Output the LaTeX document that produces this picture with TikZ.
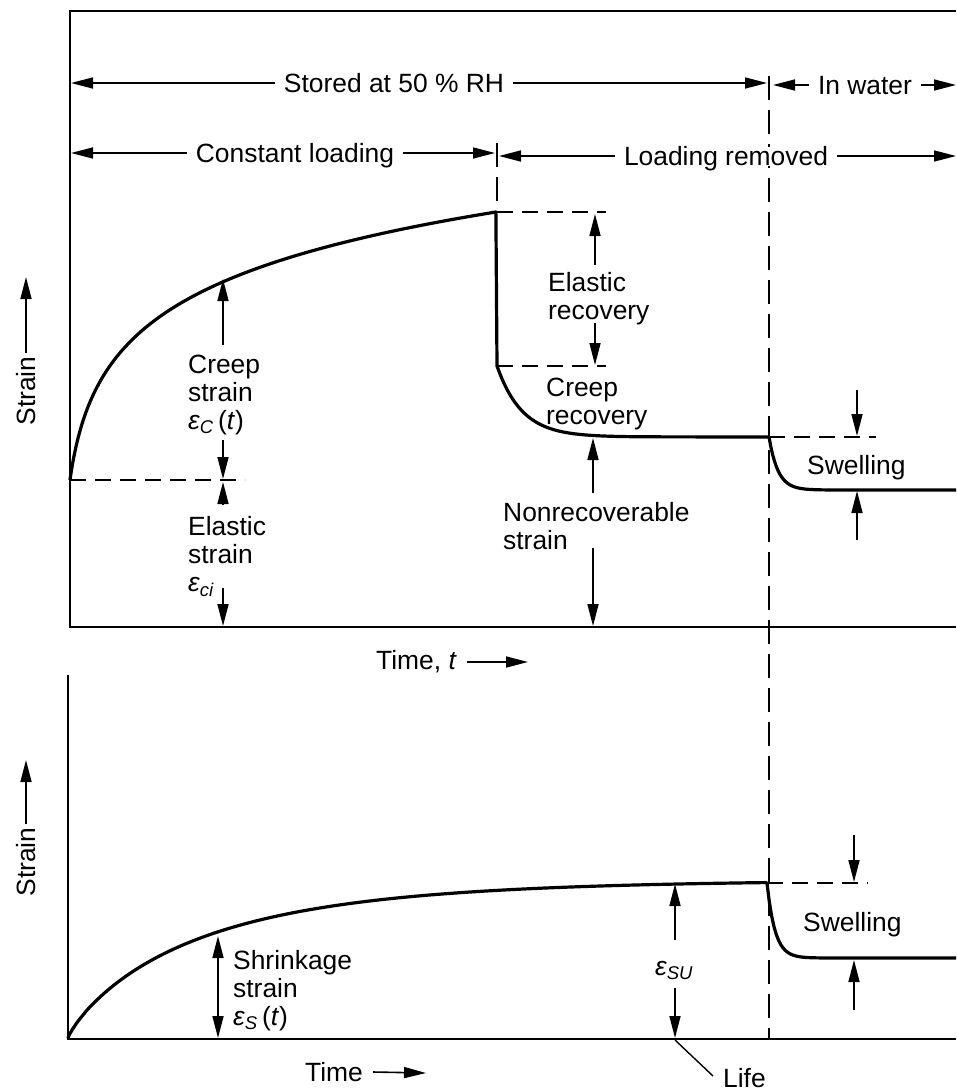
\documentclass[tikz,border=0pt]{standalone}
\usepackage{fontspec}
\setmainfont{Liberation Sans}
\usetikzlibrary{arrows.meta}
\begin{document}
\begin{tikzpicture}[x=1pt,y=-1pt,
  every node/.style={font=\fontsize{26.4}{28}\selectfont, inner sep=0pt},
  axis/.style={line width=2.5pt, line join=miter},
  curve/.style={line width=3.2pt, line join=round},
  guide/.style={line width=1.8pt, dash pattern=on 16pt off 9pt},
  vguide/.style={line width=2pt, dash pattern=on 24pt off 10pt},
  dimline/.style={line width=1.6pt, -{Triangle[length=22pt,width=11pt]}},
  dimboth/.style={line width=1.6pt, {Triangle[length=22pt,width=11pt]}-{Triangle[length=22pt,width=11pt]}},
  thinline/.style={line width=1.4pt},
  span/.style={inner xsep=9pt, inner ysep=0pt, text height=19pt, text depth=0pt, fill=white},
  lbl/.style={align=left, anchor=north west},
]
\useasboundingbox (0,0) rectangle (956,1092);

% ---------- frames / axes ----------
\draw[axis] (956,11) -- (70,11) -- (70,627) -- (956,627);
\draw[axis] (68,675) -- (68,1039) -- (956,1039);

% ---------- dashed verticals ----------
\draw[vguide] (769,76) -- (769,1039);
\draw[vguide] (497,143) -- (497,212);

% ---------- dashed guides ----------
\draw[guide] (70,480) -- (245,480);
\draw[guide] (497,212) -- (606,212);
\draw[guide] (497,366) -- (606,366);
\draw[guide] (769,437) -- (876,437);
\draw[guide] (767,883) -- (868,883);

% ---------- curves ----------
\draw[curve] plot[domain=0:1, samples=120, variable=\s] ({70+427*\s*\s},{480-71*ln(1+42.7*\s*\s)})
  -- (497,366)
  -- plot[domain=0:150, samples=60, variable=\u] ({497+\u},{437-71*exp(-\u/25)})
  -- (769,437)
  -- plot[domain=0:70, samples=40, variable=\u] ({769+\u},{490-53*exp(-\u/9)})
  -- (956,490);

\draw[curve] (68,1038)
  -- plot[domain=0.002:1, samples=120, variable=\s] ({68+699*\s*\s},{1038-158*(1-exp(-exp(0.85*ln(699*\s*\s/132))))})
  -- (767,883)
  -- plot[domain=0:90, samples=40, variable=\u] ({767+\u},{958-75*exp(-\u/8)})
  -- (956,958);

% ---------- top span labels ----------
\node[span] (rh) at (394,83) {Stored at 50 \% RH};
\coordinate (rhL) at (71,83);
\coordinate (rhR) at (767,83);
\draw[dimline] (rh.west) -- (rhL);
\draw[dimline] (rh.east) -- (rhR);

\node[span] (iw) at (865,85) {In water};
\coordinate (iwL) at (773,85);
\coordinate (iwR) at (956,85);
\draw[dimline] (iw.west) -- (iwL);
\draw[dimline] (iw.east) -- (iwR);

\node[span] (cl) at (295,153) {Constant loading};
\coordinate (clL) at (71,153);
\coordinate (clR) at (495,153);
\draw[dimline] (cl.west) -- (clL);
\draw[dimline] (cl.east) -- (clR);
\draw[thinline] (497,143) -- (497,166);

\node[span] (lr) at (726,156) {Loading removed};
\coordinate (lrL) at (499,156);
\coordinate (lrR) at (956,156);
\draw[dimline] (lr.west) -- (lrL);
\draw[dimline] (lr.east) -- (lrR);

% ---------- axis labels ----------
\node[rotate=90, inner xsep=3pt] (s1) at (26,391) {Strain};
\coordinate (s1T) at (26,277);
\draw[dimline] (s1.east) -- (s1T);

\node[rotate=90, inner xsep=3pt] (s2) at (26,862) {Strain};
\coordinate (s2T) at (26,760);
\draw[dimline] (s2.east) -- (s2T);

\node[anchor=west, inner xsep=10pt] (t1) at (366,662) {Time, \textit{t}};
\coordinate (t1T) at (528,662);
\draw[dimline] (t1.east) -- (t1T);

\node[anchor=west, inner xsep=10pt] (t2) at (295,1072) {Time};
\coordinate (t2T) at (426,1073);
\draw[dimline] (t2.east) -- (t2T);

% ---------- upper panel labels ----------
\node[lbl] (cs) at (188,355) {Creep\\strain\\\textit{ε\textsubscript{C}}\,(\textit{t})};
\coordinate (csA) at (223,345); \coordinate (csAT) at (223,279);
\coordinate (csB) at (223,440); \coordinate (csBT) at (223,479);
\draw[dimline] (csA) -- (csAT);
\draw[dimline] (csB) -- (csBT);

\node[lbl] (es) at (188,516) {Elastic\\strain\\\textit{ε\textsubscript{ci}}};
\coordinate (esA) at (223,505); \coordinate (esAT) at (223,482);
\coordinate (esB) at (223,588); \coordinate (esBT) at (223,626);
\draw[dimline] (esA) -- (esAT);
\draw[dimline] (esB) -- (esBT);

\node[lbl] (er) at (548,272) {Elastic\\recovery};
\coordinate (erA) at (595,265); \coordinate (erAT) at (595,214);
\coordinate (erB) at (595,323); \coordinate (erBT) at (595,365);
\draw[dimline] (erA) -- (erAT);
\draw[dimline] (erB) -- (erBT);

\node[lbl] (cr) at (546,378) {Creep\\recovery};

\node[lbl] (nr) at (503,502) {Nonrecoverable\\strain};
\coordinate (nrA) at (593,493); \coordinate (nrAT) at (593,438);
\coordinate (nrB) at (593,548); \coordinate (nrBT) at (593,626);
\draw[dimline] (nrA) -- (nrAT);
\draw[dimline] (nrB) -- (nrBT);

\node[lbl] (sw1) at (807,455) {Swelling};
\coordinate (sw1A) at (857,390); \coordinate (sw1AT) at (857,436);
\coordinate (sw1B) at (857,540); \coordinate (sw1BT) at (857,491);
\draw[dimline] (sw1A) -- (sw1AT);
\draw[dimline] (sw1B) -- (sw1BT);

% ---------- lower panel labels ----------
\node[lbl] (sh) at (233,950) {Shrinkage\\strain\\\textit{ε\textsubscript{S}}\,(\textit{t})};
\coordinate (shT) at (218,936); \coordinate (shB) at (218,1038);
\draw[dimboth] (shT) -- (shB);

\node[anchor=base west] (su) at (655,975) {\textit{ε\textsubscript{SU}}};
\coordinate (suA) at (675,940); \coordinate (suAT) at (675,884);
\coordinate (suB) at (675,988); \coordinate (suBT) at (675,1038);
\draw[dimline] (suA) -- (suAT);
\draw[dimline] (suB) -- (suBT);

\node[lbl] (sw2) at (803,912) {Swelling};
\coordinate (sw2A) at (854,835); \coordinate (sw2AT) at (854,882);
\coordinate (sw2B) at (854,1010); \coordinate (sw2BT) at (854,960);
\draw[dimline] (sw2A) -- (sw2AT);
\draw[dimline] (sw2B) -- (sw2BT);

\node[lbl] (life) at (723,1068) {Life};
\coordinate (life0) at (675,1040);
\coordinate (life1) at (713,1076);
\draw[thinline] (life0) -- (life1);
\end{tikzpicture}
\end{document}
